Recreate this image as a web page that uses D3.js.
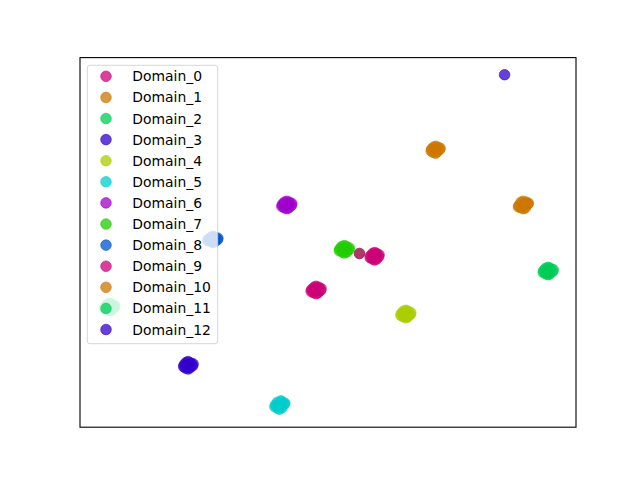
<!DOCTYPE html>
<html>
<head>
<meta charset="utf-8">
<script src="https://cdn.jsdelivr.net/npm/d3@7"></script>
<style>
  html, body { margin: 0; padding: 0; background: #ffffff; }
  svg { display: block; }
</style>
</head>
<body>
<div id="chart"></div>
<script>
// ---- data (embedding coordinates) ----
const domainNames = ["Domain_0","Domain_1","Domain_2","Domain_3","Domain_4","Domain_5","Domain_6",
                     "Domain_7","Domain_8","Domain_9","Domain_10","Domain_11","Domain_12"];
const domainColors = ["#cc0077","#cc7700","#00cc55","#3300cc","#aacc00","#00cccc","#a000cc",
                      "#22cc00","#0055cc","#cc0077","#cc7700","#00cc55","#3300cc"];

const domain0  = [[-3.3,-10.2],[-1.5,-10.4],[-2.8,-9.7],[-1.9,-9.7],[-2.9,-10.9],[-2.0,-10.9],[-2.4,-10.3],
                  [-2.4,-9.5],[-2.4,-11.1],[-3.4,-10.6],[-1.4,-10.0]];
const domain1  = [[20.9,20.2],[22.5,20.1],[21.3,20.6],[22.1,20.6],[21.2,19.5],[22.0,19.6],[21.7,20.0],
                  [21.7,20.8],[21.7,19.3],[20.8,19.8],[22.6,20.4]];
const domain2  = [[43.5,-6.1],[45.3,-6.3],[43.9,-5.6],[44.8,-5.6],[43.9,-6.8],[44.7,-6.8],[44.4,-6.2],
                  [44.4,-5.4],[44.4,-7.0],[43.4,-6.5],[45.4,-5.9]];
const domain3  = [[-29.0,-26.5],[-27.3,-26.7],[-28.6,-26.0],[-27.7,-26.1],[-28.7,-27.2],[-27.8,-27.1],[-28.2,-26.6],
                  [-28.2,-25.8],[-28.2,-27.4],[-29.1,-26.9],[-27.2,-26.3]];
const domain4  = [[14.8,-15.4],[16.6,-15.6],[15.2,-14.9],[16.1,-14.9],[15.2,-16.1],[16.1,-16.1],[15.7,-15.5],
                  [15.7,-14.7],[15.7,-16.3],[14.7,-15.8],[16.7,-15.2]];
const domain5  = [[-10.6,-35.2],[-8.8,-35.0],[-10.2,-34.6],[-9.3,-34.5],[-10.1,-35.9],[-9.3,-35.8],[-9.7,-35.2],
                  [-9.5,-34.3],[-9.8,-36.1],[-10.7,-35.6],[-8.7,-34.8]];
const domain6  = [[-9.2,8.2],[-7.4,8.0],[-8.8,8.7],[-7.8,8.7],[-8.8,7.5],[-7.9,7.5],[-8.3,8.1],
                  [-8.3,8.9],[-8.3,7.3],[-9.3,7.8],[-7.3,8.4]];
const domain7  = [[2.4,-1.4],[4.2,-1.6],[2.8,-0.9],[3.7,-0.9],[2.9,-2.1],[3.8,-2.1],[3.3,-1.5],
                  [3.3,-0.7],[3.3,-2.3],[2.3,-1.8],[4.3,-1.2],[6.35,-2.4]];
const domain8  = [[-24.1,0.7],[-22.3,0.6],[-23.6,1.1],[-22.7,1.1],[-23.6,0.2],[-22.8,0.2],[-23.2,0.65],
                  [-23.2,1.3],[-23.2,0.0],[-24.2,0.4],[-22.2,0.9]];
const domain9  = [[8.6,-2.9],[10.2,-3.1],[9.0,-2.4],[9.8,-2.4],[9.0,-3.6],[9.8,-3.6],[9.4,-3.0],
                  [9.4,-2.2],[9.4,-3.8],[8.5,-3.3],[10.3,-2.7],[6.35,-2.4]];
const domain10 = [[38.5,8.0],[40.3,8.3],[38.9,8.7],[39.9,8.7],[38.9,7.5],[39.8,7.5],[39.4,8.1],
                  [39.4,8.9],[39.4,7.3],[38.4,7.7],[40.4,8.5]];
const domain11 = [[-44.9,-13.9],[-43.1,-14.1],[-44.5,-13.4],[-43.6,-13.4],[-44.5,-14.6],[-43.6,-14.6],[-44.0,-14.0],
                  [-44.0,-13.2],[-44.0,-14.8],[-45.0,-14.3],[-43.0,-13.7]];
const domain12 = [[35.6,36.3]];

const domainPoints = [domain0,domain1,domain2,domain3,domain4,domain5,domain6,
                      domain7,domain8,domain9,domain10,domain11,domain12];

// ---- layout ----
const W = 640, H = 480;
const plot = {left: 80, right: 576, top: 57.6, bottom: 427.2};
const pointR = 5.3, pointAlpha = 0.75;

const svg = d3.select("#chart").append("svg")
  .attr("width", W).attr("height", H)
  .style("background", "#ffffff");

const x = d3.scaleLinear().domain([-50, 50]).range([plot.left, plot.right]);
const y = d3.scaleLinear().domain([-40, 40]).range([plot.bottom, plot.top]);

// points, drawn domain by domain
const gPts = svg.append("g");
domainPoints.forEach((pts, i) => {
  gPts.append("g")
    .selectAll("circle")
    .data(pts)
    .join("circle")
    .attr("cx", d => x(d[0]))
    .attr("cy", d => y(d[1]))
    .attr("r", pointR)
    .attr("fill", domainColors[i])
    .attr("fill-opacity", pointAlpha)
    .attr("stroke", domainColors[i])
    .attr("stroke-opacity", pointAlpha)
    .attr("stroke-width", 0.8);
});

// axes frame (no ticks)
svg.append("rect")
  .attr("x", plot.left).attr("y", plot.top)
  .attr("width", plot.right - plot.left)
  .attr("height", plot.bottom - plot.top)
  .attr("fill", "none")
  .attr("stroke", "#000000")
  .attr("stroke-width", 1.1);

// legend
const leg = {x: 87.3, y: 65.3, w: 130.4, h: 278.4, row0: 76.3, step: 21.1, mx: 106, tx: 132.3};
const gLeg = svg.append("g");
gLeg.append("rect")
  .attr("x", leg.x).attr("y", leg.y)
  .attr("width", leg.w).attr("height", leg.h)
  .attr("rx", 2.8).attr("ry", 2.8)
  .attr("fill", "#ffffff").attr("fill-opacity", 0.8)
  .attr("stroke", "#cccccc").attr("stroke-opacity", 0.8)
  .attr("stroke-width", 1);

const rows = gLeg.selectAll("g.row")
  .data(domainNames)
  .join("g")
  .attr("class", "row")
  .attr("transform", (d, i) => `translate(0,${leg.row0 + i * leg.step})`);

rows.append("circle")
  .attr("cx", leg.mx).attr("cy", 0).attr("r", pointR)
  .attr("fill", (d, i) => domainColors[i])
  .attr("fill-opacity", pointAlpha)
  .attr("stroke", (d, i) => domainColors[i])
  .attr("stroke-opacity", pointAlpha)
  .attr("stroke-width", 0.8);

rows.append("text")
  .attr("x", leg.tx).attr("y", 0)
  .attr("dy", "0.36em")
  .attr("font-family", "DejaVu Sans, sans-serif")
  .attr("font-size", "13.9px")
  .attr("fill", "#000000")
  .text(d => d);
</script>
</body>
</html>
